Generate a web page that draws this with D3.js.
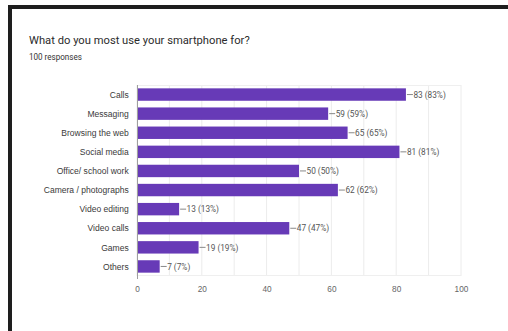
<!DOCTYPE html>
<html>
<head>
<meta charset="utf-8">
<script src="https://cdn.jsdelivr.net/npm/d3@7/dist/d3.min.js"></script>
<style>
  html, body { margin: 0; padding: 0; background: #fff; }
  svg { display: block; font-family: Roboto, "Noto Sans", Arial, sans-serif; }
</style>
</head>
<body>
<svg id="chart" width="508" height="331"></svg>
<script>
// Survey answers: how many of the 100 respondents picked each use
const categories = [
  "Calls", "Messaging", "Browsing the web", "Social media", "Office/ school work",
  "Camera / photographs", "Video editing", "Video calls", "Games", "Others"
];
const counts = [83, 59, 65, 81, 50, 62, 13, 47, 19, 7];
const xTickValues = [0, 20, 40, 60, 80, 100];
const gridValues = [0, 10, 20, 30, 40, 50, 60, 70, 80, 90, 100];
const totalResponses = 100;
const titleText = "What do you most use your smartphone for?";
const subtitleText = "100 responses";

const data = categories.map((c, i) => ({ category: c, count: counts[i] }));

const svg = d3.select("#chart");
const squeeze = 0.92; // narrow text look

// outer frame (top and left edges)
svg.append("rect").attr("x", 8).attr("y", 5).attr("width", 500).attr("height", 4).attr("fill", "#1e1e1e");
svg.append("rect").attr("x", 8).attr("y", 5).attr("width", 4).attr("height", 326).attr("fill", "#1e1e1e");

// title block
svg.append("text")
  .attr("transform", `translate(29,43.5) scale(0.95,1)`)
  .attr("font-size", 11.8).attr("fill", "#2b2b2b")
  .text(titleText);
svg.append("text")
  .attr("transform", `translate(29,60) scale(0.95,1)`)
  .attr("font-size", 8.5).attr("fill", "#333")
  .text(subtitleText);

const x = d3.scaleLinear().domain([0, 100]).range([137, 461]);
const y = d3.scaleBand().domain(categories).range([85, 276]).paddingInner(0.35).paddingOuter(0.175);

// vertical gridlines
svg.append("g").selectAll("line").data(gridValues).join("line")
  .attr("x1", d => x(d)).attr("x2", d => x(d))
  .attr("y1", 85).attr("y2", 276)
  .attr("stroke", "#ececec").attr("stroke-width", 1);
// top and bottom edges of the plot
svg.append("line").attr("x1", x(0)).attr("x2", x(100)).attr("y1", 85.5).attr("y2", 85.5).attr("stroke", "#efefef");
svg.append("line").attr("x1", x(0)).attr("x2", x(100)).attr("y1", 275.5).attr("y2", 275.5).attr("stroke", "#efefef");

// bars
svg.append("g").selectAll("rect").data(data).join("rect")
  .attr("x", x(0))
  .attr("y", d => y(d.category))
  .attr("width", d => x(d.count) - x(0))
  .attr("height", y.bandwidth())
  .attr("fill", "#673ab7");

// baseline at zero
svg.append("line").attr("x1", x(0) + 0.5).attr("x2", x(0) + 0.5).attr("y1", 85).attr("y2", 279)
  .attr("stroke", "#9e9e9e");

// value labels with leader lines
const lab = svg.append("g").selectAll("g").data(data).join("g")
  .attr("transform", d => `translate(${x(d.count)},${y(d.category) + y.bandwidth() / 2})`);
lab.append("line").attr("x1", 1).attr("x2", 7).attr("stroke", "#888");
lab.append("text")
  .attr("transform", `translate(7.5,3.2) scale(${squeeze},1)`)
  .attr("font-size", 9).attr("fill", "#555")
  .text(d => `${d.count} (${Math.round(d.count / totalResponses * 100)}%)`);

// category axis
const yAxis = svg.append("g").attr("transform", `translate(${x(0)},0)`)
  .call(d3.axisLeft(y).tickSize(0).tickPadding(9));
yAxis.select(".domain").remove();
yAxis.selectAll("text")
  .attr("font-family", null).attr("font-size", 9.3).attr("fill", "#3a3a3a")
  .attr("dy", "0.34em")
  .attr("transform", `scale(${squeeze},1)`);

// value axis
const xAxis = svg.append("g").attr("transform", "translate(0,276)")
  .call(d3.axisBottom(x).tickValues(xTickValues).tickSize(0).tickPadding(10).tickFormat(d3.format("d")));
xAxis.select(".domain").remove();
xAxis.selectAll("text")
  .attr("font-family", null).attr("font-size", 9).attr("fill", "#666")
  .attr("transform", `scale(${squeeze},1)`);
</script>
</body>
</html>
